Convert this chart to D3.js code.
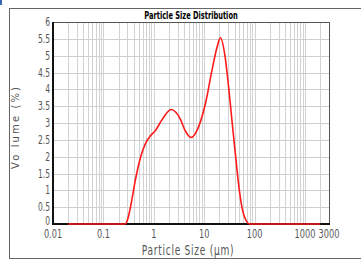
<!DOCTYPE html>
<html><head><meta charset="utf-8">
<script src="https://cdn.jsdelivr.net/npm/d3@7/dist/d3.min.js"></script>
<style>
html,body{margin:0;padding:0;background:#fff;}
svg{display:block;}
</style></head>
<body>
<svg id="c" width="361" height="260"></svg>
<script>
// ---- data ----
const sizes   = [0.02, 0.27, 0.30, 0.35, 0.43, 0.55, 0.69, 0.86, 1.08, 1.46, 2.2, 3.4, 4.1, 5.5, 7.8, 10.6, 14.3, 18, 21, 26, 30.5, 35.5, 41.5, 48, 56, 70, 80, 2000];
const volumes = [0,    0,    0.12, 0.55, 1.3,  2.0,  2.4,  2.62, 2.78, 3.1,  3.4, 3.1, 2.8, 2.57, 2.9, 3.58, 4.57, 5.25, 5.53, 4.97, 4.08, 3.09, 2.1, 1.2, 0.51, 0.07, 0, 0];
const xTickValues = [0.01, 0.1, 1, 10, 100, 1000, 3000];
const xTickLabels = ["0.01", "0.1", "1", "10", "100", "1000", "3000"];
const yTickValues = [0, 0.5, 1, 1.5, 2, 2.5, 3, 3.5, 4, 4.5, 5, 5.5, 6];
const title = "Particle Size Distribution";
const xTitle = "Particle Size (μm)";
const yTitle = "Vo lume (%)";

// ---- layout ----
const svg = d3.select("#c");
const L = 53, R = 329, T = 22, B = 224;
const x = d3.scaleLog().domain([0.01, 3000]).range([L, R]);
const y = d3.scaleLinear().domain([0, 6]).range([B, T]);
const SX = 0.7;
const tickFont = "'Liberation Sans Narrow','DejaVu Sans Condensed',sans-serif";

// blue corner mark
svg.append("rect").attr("x",0).attr("y",0).attr("width",2).attr("height",5).attr("fill","#3a66b8");

// outer box
svg.append("rect").attr("x",9.5).attr("y",8.5).attr("width",360).attr("height",250)
  .attr("fill","none").attr("stroke","#666").attr("stroke-width",1);

// grid
const minor = [];
for (let e = -2; e <= 3; e++) for (let m = 2; m <= 9; m++) { const v = m*Math.pow(10,e); if (v < 3000) minor.push(v); }
const majors = [0.1, 1, 10, 100, 1000];
svg.append("g").selectAll("line").data(minor.concat(majors)).join("line")
  .attr("x1", d => Math.round(x(d))+0.5).attr("x2", d => Math.round(x(d))+0.5)
  .attr("y1", T).attr("y2", B).attr("stroke","#d2d2d2").attr("stroke-width",1);
svg.append("g").selectAll("line").data(yTickValues.filter(v => v>0 && v<6)).join("line")
  .attr("x1", L).attr("x2", R)
  .attr("y1", d => Math.round(y(d))+0.5).attr("y2", d => Math.round(y(d))+0.5)
  .attr("stroke","#cfcfcf").attr("stroke-width",1);

// frame
svg.append("rect").attr("x",L).attr("y",T+0.5).attr("width",R-L+0.5).attr("height",B-T)
  .attr("fill","none").attr("stroke","#555").attr("stroke-width",1);
svg.append("line").attr("x1",L).attr("x2",L).attr("y1",T).attr("y2",B+1).attr("stroke","#111").attr("stroke-width",2);
svg.append("line").attr("x1",L-1).attr("x2",R+1).attr("y1",B).attr("y2",B).attr("stroke","#111").attr("stroke-width",2);

// axes
const ax = svg.append("g").attr("transform",`translate(0,${B+2})`)
  .call(d3.axisBottom(x).tickValues(xTickValues).tickFormat((d,i)=>xTickLabels[i]).tickSize(0));
ax.select(".domain").remove();
ax.selectAll("text").attr("y",12.5).attr("dy",0).attr("transform",`scale(${SX},1)`)
  .attr("font-family",tickFont).attr("font-size",13).attr("fill","#555");
ax.selectAll(".tick").attr("transform", d => `translate(${x(d)},0)`);

const ay = svg.append("g").attr("transform",`translate(${L},0)`)
  .call(d3.axisLeft(y).tickValues(yTickValues).tickFormat(d3.format("")).tickSize(0));
ay.select(".domain").remove();
ay.selectAll("text").attr("x",-3/SX).attr("dy", d => d === 0 ? "0em" : "0.3em").attr("transform",`scale(${SX},1)`)
  .attr("font-family",tickFont).attr("font-size",12).attr("fill","#555");

// curve
const line = d3.line().x((d,i)=>x(sizes[i])).y(d=>y(d)).curve(d3.curveMonotoneX);
svg.append("path").attr("d", line(volumes)).attr("fill","none")
  .attr("stroke","#ff1a1a").attr("stroke-width",1.6);

// title
svg.append("g").attr("transform",`translate(191,19) scale(0.74,1)`)
  .append("text").attr("text-anchor","middle").attr("font-family",tickFont)
  .attr("font-weight","bold").attr("font-size",10).attr("fill","#000").text(title);

// x title
svg.append("g").attr("transform",`translate(188,255) scale(0.72,1)`)
  .append("text").attr("text-anchor","middle").attr("font-family",tickFont)
  .attr("font-size",14).attr("fill","#555").attr("letter-spacing",1).text(xTitle);

// y title
svg.append("text").attr("transform","translate(19,128) rotate(-90)")
  .attr("text-anchor","middle").attr("font-family","'DejaVu Sans',sans-serif")
  .attr("font-size",10).attr("fill","#555")
  .attr("textLength",82).attr("lengthAdjust","spacing").text(yTitle);
</script>
</body></html>
